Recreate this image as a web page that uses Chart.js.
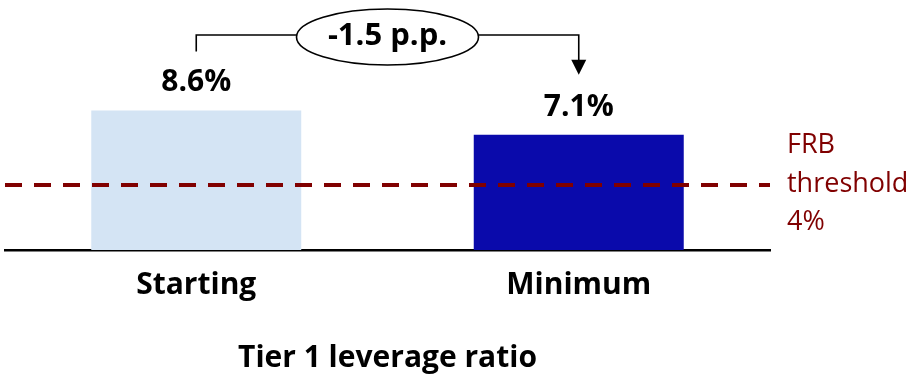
<!DOCTYPE html>
<html>
<head>
<meta charset="utf-8">
<script src="https://cdn.jsdelivr.net/npm/chart.js@4"></script>
<style>
  html, body { margin: 0; padding: 0; background: #ffffff; }
  #wrap { width: 913px; height: 375px; }
</style>
</head>
<body>
<div id="wrap"><canvas id="c" width="913" height="375"></canvas></div>
<script>
const categories = ['Starting', 'Minimum'];
const ratioValues = [8.6, 7.1];
const valueLabels = ['8.6%', '7.1%'];
const barColors = ['#d4e4f4', '#0a0aab'];
const thresholdValue = 4;
const thresholdLabel = ['FRB', 'threshold', '4%'];
const changeLabel = '-1.5 p.p.';
const axisTitle = 'Tier 1 leverage ratio';

const FONT = "'Open Sans', 'Liberation Sans', sans-serif";
const RED = '#800000';

const overlay = {
  id: 'overlay',
  afterDatasetsDraw(chart) {
    const ctx = chart.ctx;
    const area = chart.chartArea;
    const meta = chart.getDatasetMeta(0);
    const bars = meta.data;
    const yScale = chart.scales.y;
    ctx.save();
    // threshold line (drawn over bars)
    const ty = yScale.getPixelForValue(thresholdValue);
    ctx.strokeStyle = RED;
    ctx.lineWidth = 4;
    ctx.setLineDash([17, 12]);
    ctx.beginPath();
    ctx.moveTo(area.left, ty);
    ctx.lineTo(area.right, ty);
    ctx.stroke();
    ctx.setLineDash([]);

    // value labels
    ctx.fillStyle = '#000000';
    ctx.font = 'bold 30px ' + FONT;
    ctx.textAlign = 'center';
    ctx.textBaseline = 'alphabetic';
    bars.forEach((b, i) => {
      ctx.fillText(valueLabels[i], b.x, b.y - 19);
    });

    // threshold label
    ctx.fillStyle = RED;
    ctx.font = '27px ' + FONT;
    ctx.textAlign = 'left';
    thresholdLabel.forEach((t, i) => {
      ctx.fillText(t, area.right + 17, ty - 32 + i * 38.5);
    });

    // bracket with arrow
    const x1 = bars[0].x, x2 = bars[1].x;
    const lineY = 35;
    const cx = (x1 + x2) / 2, cy = 37, rx = 91, ry = 28;
    ctx.strokeStyle = '#000000';
    ctx.lineWidth = 1.6;
    ctx.beginPath();
    ctx.moveTo(x1, bars[0].y - 59);
    ctx.lineTo(x1, lineY);
    ctx.lineTo(cx - rx, lineY);
    ctx.moveTo(cx + rx, lineY);
    ctx.lineTo(x2, lineY);
    ctx.lineTo(x2, bars[1].y - 70);
    ctx.stroke();
    ctx.fillStyle = '#000000';
    ctx.beginPath();
    ctx.moveTo(x2 - 7.5, bars[1].y - 75);
    ctx.lineTo(x2 + 7.5, bars[1].y - 75);
    ctx.lineTo(x2, bars[1].y - 60);
    ctx.closePath();
    ctx.fill();

    ctx.beginPath();
    ctx.ellipse(cx, cy, rx, ry, 0, 0, Math.PI * 2);
    ctx.fillStyle = '#ffffff';
    ctx.fill();
    ctx.stroke();
    ctx.fillStyle = '#000000';
    ctx.font = 'bold 31px ' + FONT;
    ctx.textAlign = 'center';
    ctx.textBaseline = 'alphabetic';
    ctx.fillText(changeLabel, cx, 45);
    ctx.restore();
  }
};

new Chart(document.getElementById('c'), {
  type: 'bar',
  data: {
    labels: categories,
    datasets: [{
      data: ratioValues,
      backgroundColor: barColors,
      borderWidth: 0,
      barPercentage: 0.549,
      categoryPercentage: 1
    }]
  },
  options: {
    responsive: false,
    animation: false,
    events: [],
    layout: { padding: { left: 5, right: 143, top: 0, bottom: 0 } },
    plugins: { legend: { display: false }, tooltip: { enabled: false }, title: { display: false } },
    scales: {
      x: {
        grid: { display: false, drawTicks: false },
        border: { display: true, color: '#000000', width: 2.5 },
        ticks: {
          color: '#000000',
          font: { family: FONT, size: 30, weight: 'bold', lineHeight: 1.2 },
          padding: 17,
          maxRotation: 0
        },
        title: {
          display: true,
          text: axisTitle,
          color: '#000000',
          font: { family: FONT, size: 30, weight: 'bold', lineHeight: 1.1 },
          padding: { top: 22, bottom: 0 }
        }
      },
      y: {
        display: false,
        min: 0,
        max: 15.4
      }
    }
  },
  plugins: [overlay]
});
</script>
</body>
</html>
